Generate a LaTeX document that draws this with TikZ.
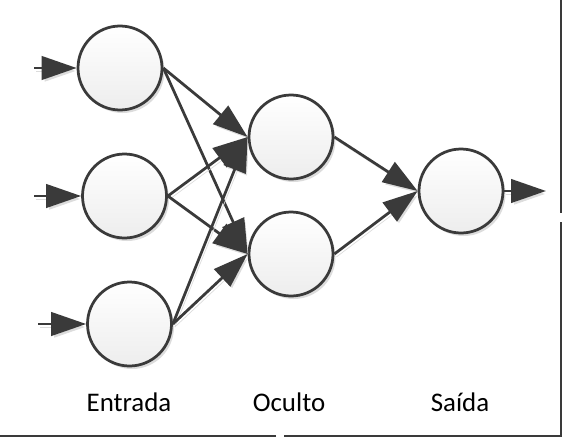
\documentclass[tikz,border=0pt]{standalone}
\usepackage{fontspec}
\setmainfont{Carlito}
\usepackage{tikz}
\usetikzlibrary{arrows.meta,shadows,positioning}
\definecolor{nn-line}{RGB}{58,58,58}
\definecolor{nn-shade}{RGB}{220,220,220}

\begin{document}
\begin{tikzpicture}[
    neuron/.style={circle, draw=nn-line, line width=0.055cm, minimum size=1.68cm, top color=white, bottom color=black!7,
      drop shadow={shadow xshift=0.05cm, shadow yshift=-0.06cm, fill=nn-shade, opacity=1}},
    arrow/.style={-{Triangle[length=0.70cm, width=0.47cm]}, line width=0.055cm, draw=nn-line,
      preaction={draw=nn-shade, transform canvas={shift={(0.04,-0.06)}}}},
    layer/.style={anchor=base, font=\fontsize{15.3}{18}\selectfont},
    frame/.style={draw=nn-line, line width=0.04cm}]

    \useasboundingbox (0,0) rectangle (11.24,8.74);

    % Input layer
    \node[neuron] (in1) at (2.40,7.38) {};
    \node[neuron] (in2) at (2.49,4.82) {};
    \node[neuron] (in3) at (2.59,2.26) {};

    % Hidden layer
    \node[neuron] (hid1) at (5.82,6.00) {};
    \node[neuron] (hid2) at (5.82,3.66) {};

    % Output layer
    \node[neuron] (out1) at (9.22,4.92) {};

    % Free ends
    \coordinate (x1) at (0.68,7.38);
    \coordinate (x2) at (0.68,4.82);
    \coordinate (x3) at (0.76,2.26);
    \coordinate (y1) at (10.92,4.92);

    % Labels
    \node[layer] (lin) at (2.58,0.52) {Entrada};
    \node[layer] (lhid) at (5.78,0.52) {Oculto};
    \node[layer] (lout) at (9.20,0.52) {Saída};

    % Arrows
    \draw[arrow] (x1) -- (in1.west);
    \draw[arrow] (x2) -- (in2.west);
    \draw[arrow] (x3) -- (in3.west);
    \draw[arrow] (in1.east) -- (hid1.west);
    \draw[arrow] (in1.east) -- (hid2.west);
    \draw[arrow] (in2.east) -- (hid1.west);
    \draw[arrow] (in2.east) -- (hid2.west);
    \draw[arrow] (in3.east) -- (hid1.west);
    \draw[arrow] (in3.east) -- (hid2.west);
    \draw[arrow] (hid1.east) -- (out1.west);
    \draw[arrow] (hid2.east) -- (out1.west);
    \draw[arrow] (out1.east) -- (y1);

    % Frame edges
    \draw[frame] (11.22,8.74) -- (11.22,4.48);
    \draw[frame] (11.22,4.30) -- (11.22,0.02) -- (5.68,0.02);
    \draw[frame] (5.52,0.02) -- (0,0.02);
\end{tikzpicture}
\end{document}
